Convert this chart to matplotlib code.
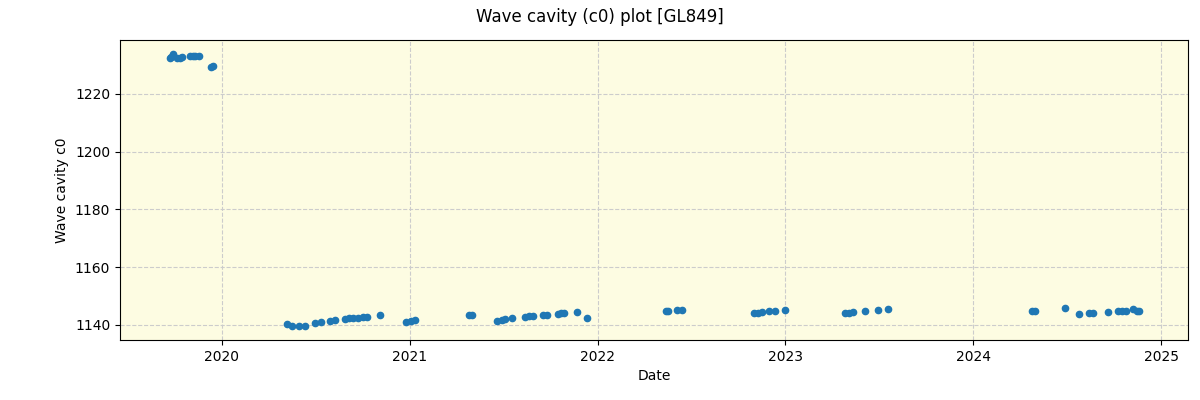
import pandas as pd
import matplotlib
matplotlib.use("Agg")
import matplotlib.pyplot as plt

dates = [
    "2019-09-22", "2019-09-25", "2019-09-28", "2019-10-06", "2019-10-11",
    "2019-10-16", "2019-10-31", "2019-11-05", "2019-11-09", "2019-11-17",
    "2019-12-11", "2019-12-14",
    "2020-05-06", "2020-05-16", "2020-05-31", "2020-06-10", "2020-07-01",
    "2020-07-11", "2020-07-29", "2020-08-09", "2020-08-27", "2020-09-05",
    "2020-09-13", "2020-09-21", "2020-10-01", "2020-10-10", "2020-11-03",
    "2020-12-25", "2021-01-02", "2021-01-10",
    "2021-04-26", "2021-05-01", "2021-06-20", "2021-06-28", "2021-07-04",
    "2021-07-19", "2021-08-13", "2021-08-21", "2021-08-29", "2021-09-17",
    "2021-09-25", "2021-10-15", "2021-10-22", "2021-10-28", "2021-11-21",
    "2021-12-12",
    "2022-05-14", "2022-05-18", "2022-06-05", "2022-06-14", "2022-11-01",
    "2022-11-09", "2022-11-17", "2022-12-01", "2022-12-12", "2023-01-01",
    "2023-04-27", "2023-05-05", "2023-05-13", "2023-06-05", "2023-06-30",
    "2023-07-20",
    "2024-04-24", "2024-04-30", "2024-06-28", "2024-07-25", "2024-08-13",
    "2024-08-21", "2024-09-19", "2024-10-09", "2024-10-16", "2024-10-24",
    "2024-11-07", "2024-11-15", "2024-11-19",
]
c0_values = [
    1232.5, 1232.8, 1233.8, 1232.3, 1232.5,
    1232.8, 1233.0, 1233.0, 1233.1, 1233.3,
    1229.5, 1229.8,
    1140.2, 1139.8, 1139.65, 1139.6, 1140.7,
    1141.0, 1141.4, 1141.7, 1142.1, 1142.25,
    1142.4, 1142.4, 1142.8, 1142.9, 1143.3,
    1141.2, 1141.4, 1141.6,
    1143.5, 1143.6, 1141.4, 1141.7, 1141.9,
    1142.3, 1142.9, 1143.1, 1143.1, 1143.5,
    1143.6, 1143.9, 1144.05, 1144.15, 1144.4,
    1142.3,
    1144.7, 1145.0, 1145.2, 1145.2, 1144.2,
    1144.3, 1144.4, 1144.85, 1144.85, 1145.2,
    1144.2, 1144.2, 1144.4, 1144.7, 1145.2,
    1145.5,
    1144.85, 1144.85, 1145.8, 1143.8, 1144.2,
    1144.2, 1144.5, 1144.7, 1144.85, 1144.85,
    1145.4, 1145.0, 1145.0,
]

x = pd.to_datetime(dates)

fig, ax = plt.subplots(figsize=(12, 4), dpi=100)
fig.subplots_adjust(left=0.1, right=0.99, top=0.9, bottom=0.15)
fig.suptitle("Wave cavity (c0) plot [GL849]", fontsize=12)

ax.set_facecolor("#fdfce2")
ax.plot(x, c0_values, "o", color="tab:blue", markersize=4.5)

ax.set_xlim(pd.Timestamp("2019-06-17"), pd.Timestamp("2025-02-22"))
ax.set_ylim(1134.8, 1238.7)
ax.set_xlabel("Date")
ax.set_ylabel("Wave cavity c0")
ax.grid(True, linestyle="--", color="#cccccc", linewidth=0.8)

fig.savefig("out.png")
